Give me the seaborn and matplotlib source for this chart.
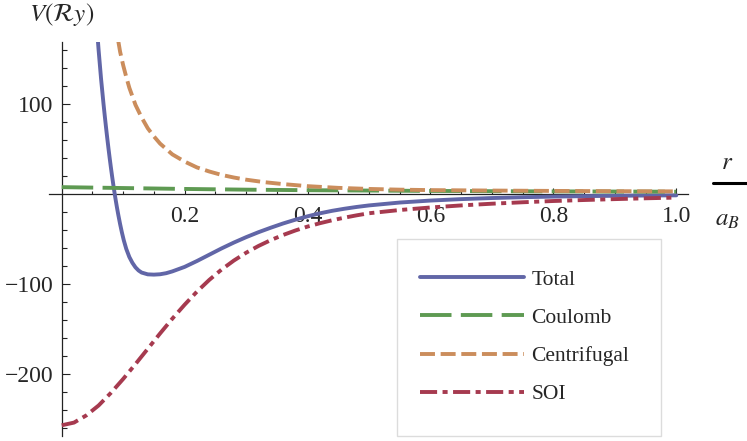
import numpy as np
import pandas as pd
import matplotlib
matplotlib.use("Agg")
import matplotlib.pyplot as plt
from matplotlib.lines import Line2D
from matplotlib.patches import Rectangle
from matplotlib.ticker import FixedLocator, NullFormatter, FixedFormatter
import seaborn as sns

sns.set_style("white")
plt.rcParams['font.family'] = ['Liberation Serif', 'DejaVu Serif']
plt.rcParams['mathtext.fontset'] = 'stix'

# ---- data ----
r_total = [0.058, 0.060, 0.062, 0.064, 0.066, 0.068, 0.070, 0.072, 0.074, 0.076,
           0.078, 0.080, 0.082, 0.084, 0.086, 0.088, 0.090, 0.092, 0.095, 0.098,
           0.101, 0.105, 0.110, 0.115, 0.120, 0.125, 0.130, 0.140, 0.150, 0.160,
           0.170, 0.180, 0.190, 0.200, 0.220, 0.240, 0.260, 0.280, 0.300, 0.320,
           0.340, 0.360, 0.380, 0.400, 0.420, 0.440, 0.460, 0.480, 0.500, 0.550,
           0.600, 0.650, 0.700, 0.750, 0.800, 0.850, 0.900, 0.950, 1.000]
v_total = [178, 160, 144, 128, 114, 100, 87, 74.5, 62.5, 51,
           40, 29.5, 19.5, 10, 1, -7.5, -15.5, -23, -33.5, -43,
           -51.5, -61, -70, -76.5, -81.5, -85, -87.3, -89.3, -89.6, -89.2,
           -88, -86, -83.5, -81, -74.5, -67.5, -60.5, -54, -48, -42.5,
           -37.5, -32.8, -28.6, -24.8, -21.5, -18.7, -16.4, -14.4, -12.7, -9.5,
           -7.3, -5.7, -4.5, -3.6, -2.9, -2.4, -2.0, -1.7, -1.5]

r_coul = [0.0, 0.1, 0.2, 0.3, 0.4, 0.5, 0.6, 0.7, 0.8, 0.9, 1.0]
v_coul = [7.6, 6.6, 5.6, 4.8, 4.2, 3.8, 3.4, 3.1, 2.9, 2.7, 2.5]

r_cent = [0.092, 0.095, 0.100, 0.105, 0.110, 0.120, 0.130, 0.140, 0.150, 0.160,
          0.180, 0.200, 0.220, 0.240, 0.260, 0.280, 0.300, 0.330, 0.360, 0.400,
          0.450, 0.500, 0.550, 0.600, 0.700, 0.800, 0.900, 1.000]
v_cent = [170, 158, 143, 130, 118, 99, 85, 73, 64, 56,
          44, 36, 29.5, 25, 21.2, 18.3, 15.9, 13.1, 11.0, 8.7,
          6.8, 5.6, 4.8, 4.3, 3.8, 3.4, 3.1, 2.9]

r_soi = [0.00, 0.02, 0.04, 0.06, 0.08, 0.10, 0.12, 0.14, 0.16, 0.18,
         0.20, 0.22, 0.24, 0.26, 0.28, 0.30, 0.32, 0.34, 0.36, 0.38,
         0.40, 0.42, 0.44, 0.46, 0.48, 0.50, 0.55, 0.60, 0.65, 0.70,
         0.75, 0.80, 0.85, 0.90, 0.95, 1.00]
v_soi = [-257, -254, -246, -235, -221, -205.5, -189, -172, -155, -138.5,
         -123, -108.5, -95.5, -84, -74, -65.3, -57.8, -51.3, -45.6, -40.6,
         -36.2, -32.5, -29.2, -26.3, -23.7, -21.4, -17.8, -15.0, -12.7, -10.8,
         -9.2, -7.8, -6.7, -5.7, -4.8, -4.0]

series_names = ["Total", "Coulomb", "Centrifugal", "SOI"]
x_major = [0.2, 0.4, 0.6, 0.8, 1.0]
x_labels = ["0.2", "0.4", "0.6", "0.8", "1.0"]
y_major = [-200, -100, 100]
y_labels = ["\u2212200", "\u2212100", "100"]

colors = {"Total": "#6166a7", "Coulomb": "#5e9a52", "Centrifugal": "#cb8d5c", "SOI": "#a63a4f"}
dashes = {"Total": "", "Coulomb": (8.1, 2.4), "Centrifugal": (3.85, 1.46),
          "SOI": (4.4, 1.4, 1.3, 1.4)}

df = pd.concat([
    pd.DataFrame({"r": r_total, "V": v_total, "series": "Total"}),
    pd.DataFrame({"r": r_coul, "V": v_coul, "series": "Coulomb"}),
    pd.DataFrame({"r": r_cent, "V": v_cent, "series": "Centrifugal"}),
    pd.DataFrame({"r": r_soi, "V": v_soi, "series": "SOI"}),
], ignore_index=True)

W, H = 747, 441
fig = plt.figure(figsize=(W / 100, H / 100), dpi=100)
ax = fig.add_axes([49 / W, (H - 436) / H, (688 - 49) / W, (436 - 41.7) / H])

sns.lineplot(data=df, x="r", y="V", hue="series", style="series",
             hue_order=series_names, style_order=series_names,
             palette=colors, dashes=dashes, linewidth=2.8, sort=False,
             estimator=None, legend=False, ax=ax, zorder=3)

ax.set_xlim(-0.0207, 1.019)
ax.set_ylim(-268.9, 169.2)

for s in ["top", "right"]:
    ax.spines[s].set_visible(False)
ax.spines["left"].set_position(("data", 0))
ax.spines["bottom"].set_position(("data", 0))
for s in ["left", "bottom"]:
    ax.spines[s].set_linewidth(0.9)
    ax.spines[s].set_color("#222222")

ax.xaxis.set_major_locator(FixedLocator(x_major))
ax.xaxis.set_major_formatter(FixedFormatter(x_labels))
ax.xaxis.set_minor_locator(FixedLocator([v for v in np.arange(0.05, 1.001, 0.05)
                                         if min(abs(v - m) for m in x_major) > 1e-6]))
ax.yaxis.set_major_locator(FixedLocator(y_major))
ax.yaxis.set_major_formatter(FixedFormatter(y_labels))
ax.yaxis.set_minor_locator(FixedLocator([v for v in range(-260, 170, 20)
                                         if v not in y_major and v != 0]))
ax.xaxis.set_minor_formatter(NullFormatter())
ax.yaxis.set_minor_formatter(NullFormatter())

ax.tick_params(axis="x", which="both", bottom=True, top=False)
ax.tick_params(axis="y", which="both", left=True, right=False)
ax.tick_params(axis="x", which="major", direction="in", length=4.2, width=0.8,
               labelsize=17, pad=8.6, color="#222222")
ax.tick_params(axis="x", which="minor", direction="in", length=2.5, width=0.8, color="#222222")
ax.tick_params(axis="y", which="major", direction="in", length=5.5, width=0.8,
               labelsize=17, pad=6, color="#222222")
ax.tick_params(axis="y", which="minor", direction="in", length=3.6, width=0.8, color="#222222")
ax.set_xlabel("")
ax.set_ylabel("")
ax.patch.set_alpha(0)

# axis labels
fig.text(62 / W, 1 - 14 / H, r"$V(\mathcal{R}y)$", ha="center", va="center", fontsize=18)
fig.text(727 / W, 1 - 163 / H, r"$r$", ha="center", va="center", fontsize=18)
fig.add_artist(Line2D([713 / W, 747 / W], [1 - 183.3 / H, 1 - 183.3 / H],
                      transform=fig.transFigure, color="black", lw=2.2))
fig.text(727 / W, 1 - 220 / H, r"$a_B$", ha="center", va="center", fontsize=18)

# legend box and entries
box = Rectangle((397 / W, 1 - 436 / H), (661 - 397) / W, (436 - 239) / H,
                transform=fig.transFigure, facecolor="white",
                edgecolor="#dcdcdc", linewidth=1.0, zorder=4, clip_on=False)
ax.add_patch(box)
handles = [Line2D([], [], color=colors[n], lw=2.8,
                  linestyle=(0, dashes[n]) if dashes[n] else "-") for n in series_names]
leg = ax.legend(handles, series_names, loc="center left",
                bbox_to_anchor=(420 / W, 1 - 337 / H), bbox_transform=fig.transFigure,
                borderaxespad=0, borderpad=0, fontsize=15.5, frameon=False,
                labelspacing=0.84, handlelength=4.85, handletextpad=0.33)
leg.set_zorder(5)

fig.savefig("out.png", dpi=100)
